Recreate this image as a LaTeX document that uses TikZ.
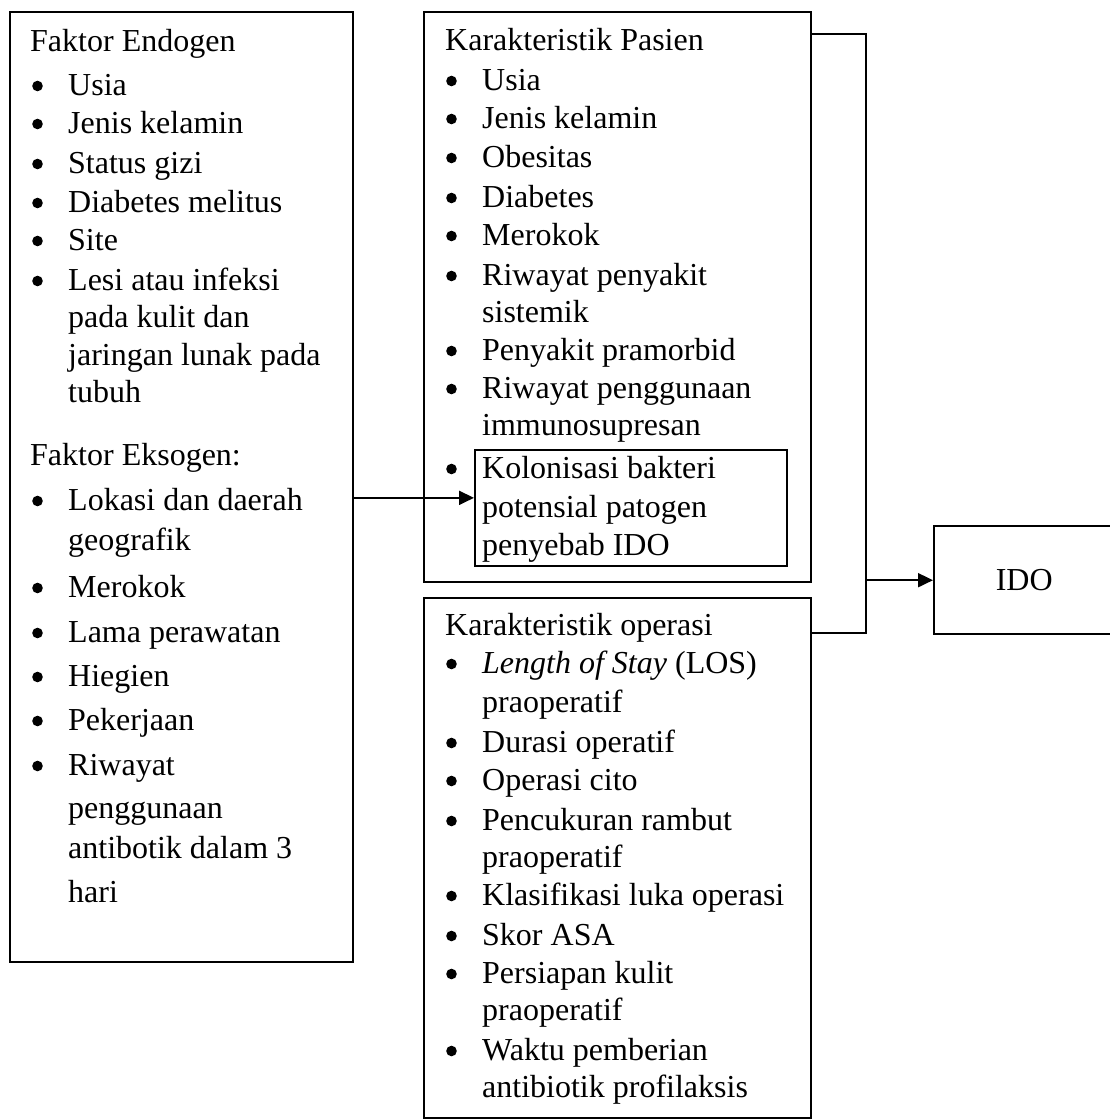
\documentclass[tikz,border=0pt]{standalone}
\usepackage{fontspec}
\setmainfont{Liberation Serif}
\usetikzlibrary{arrows.meta}
\newcommand\itm[4]{\node[txt] (#1) at (#2,#3) {#4};
  \fill ([xshift=-30.5pt,yshift=9pt]#1.base west) circle[radius=5.3pt];}
\begin{document}
\begin{tikzpicture}[x=1pt,y=-1pt,
  box/.style={draw,line width=2.4pt,inner sep=0pt,anchor=north west},
  ibox/.style={draw,line width=1.7pt,inner sep=0pt,anchor=north west},
  txt/.style={anchor=base west,inner sep=0pt,font=\fontsize{32}{38}\selectfont},
  conn/.style={line width=1.9pt},
  arr/.style={conn,-{Triangle[length=15pt,width=14pt]}}]
\useasboundingbox (0,0) rectangle (1110,1120);
\clip (0,0) rectangle (1110,1120);
% boxes
\node[box,minimum width=343pt,minimum height=950pt] (L) at (9,11) {};
\node[box,minimum width=387pt,minimum height=570pt] (P) at (423,11) {};
\node[box,minimum width=387pt,minimum height=520pt] (O) at (423,597) {};
\node[ibox,minimum width=312pt,minimum height=116pt] (K) at (474,449) {};
\node[box,minimum width=180pt,minimum height=108pt,font=\fontsize{32}{38}\selectfont] (I) at (933,525) {IDO};
% left box text
\node[txt] (l1) at (30,51) {Faktor Endogen};
\itm{l2}{68}{95}{Usia}
\itm{l3}{68}{133}{Jenis kelamin}
\itm{l4}{68}{173}{Status gizi}
\itm{l5}{68}{212}{Diabetes melitus}
\itm{l6}{68}{250}{Site}
\itm{l7}{68}{290}{Lesi atau infeksi}
\node[txt] (l8) at (68,327) {pada kulit dan};
\node[txt] (l9) at (68,365) {jaringan lunak pada};
\node[txt] (l10) at (68,402) {tubuh};
\node[txt] (l11) at (30,465) {Faktor Eksogen:};
\itm{l12}{68}{510}{Lokasi dan daerah}
\node[txt] (l13) at (68,550) {geografik};
\itm{l14}{68}{597}{Merokok}
\itm{l15}{68}{642}{Lama perawatan}
\itm{l16}{68}{686}{Hiegien}
\itm{l17}{68}{730}{Pekerjaan}
\itm{l18}{68}{775}{Riwayat}
\node[txt] (l19) at (68,818) {penggunaan};
\node[txt] (l20) at (68,858) {antibotik dalam 3};
\node[txt] (l21) at (68,902) {hari};
% patient box text
\node[txt] (p1) at (445,50) {Karakteristik Pasien};
\itm{p2}{482}{90}{Usia}
\itm{p3}{482}{128}{Jenis kelamin}
\itm{p4}{482}{167}{Obesitas}
\itm{p5}{482}{207}{Diabetes}
\itm{p6}{482}{245}{Merokok}
\itm{p7}{482}{285}{Riwayat penyakit}
\node[txt] (p8) at (482,322) {sistemik};
\itm{p9}{482}{360}{Penyakit pramorbid}
\itm{p10}{482}{398}{Riwayat penggunaan}
\node[txt] (p11) at (482,435) {immunosupresan};
\itm{p12}{482}{478}{Kolonisasi bakteri}
\node[txt] (p13) at (482,517) {potensial patogen};
\node[txt] (p14) at (482,555) {penyebab IDO};
% operation box text
\node[txt] (o1) at (445,635) {Karakteristik operasi};
\itm{o2}{482}{673}{\textit{Length of Stay} (LOS)}
\node[txt] (o3) at (482,712) {praoperatif};
\itm{o4}{482}{752}{Durasi operatif}
\itm{o5}{482}{790}{Operasi cito}
\itm{o6}{482}{830}{Pencukuran rambut}
\node[txt] (o7) at (482,867) {praoperatif};
\itm{o8}{482}{905}{Klasifikasi luka operasi}
\itm{o9}{482}{945}{Skor ASA}
\itm{o10}{482}{983}{Persiapan kulit}
\node[txt] (o11) at (482,1020) {praoperatif};
\itm{o12}{482}{1060}{Waktu pemberian}
\node[txt] (o13) at (482,1097) {antibiotik profilaksis};
% connectors
\coordinate (ka) at ([yshift=10pt]K.west);
\draw[arr] (L.east |- ka) -- (ka);
\coordinate (jt) at (866,34);
\coordinate (jb) at (866,633);
\draw[conn] (P.east |- jt) -- (jt) -- (jb) -- (O.east |- jb);
\draw[arr] (jt |- I.west) -- (I.west);
\end{tikzpicture}
\end{document}
